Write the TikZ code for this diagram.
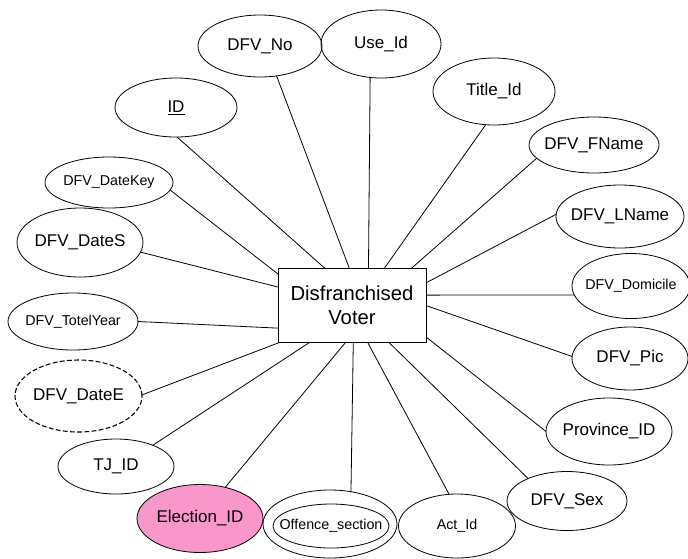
\documentclass[tikz,border=0pt]{standalone}
\usepackage{fontspec}
\setmainfont{Liberation Sans}
\usetikzlibrary{shapes.geometric}
\definecolor{elpink}{RGB}{249,150,202}
\begin{document}
\begin{tikzpicture}[x=0.75pt,y=-0.75pt,line width=0.6pt,
    ent/.style={draw,rectangle,outer sep=0pt,inner sep=0pt,minimum width=111pt,
      minimum height=55.5pt,align=center,font=\fontsize{15.2}{18}\selectfont},
    attr/.style={draw,ellipse,outer sep=0pt,inner sep=0pt,font=\fontsize{12.75}{15}\selectfont,
      execute at begin node={\hbox to 0pt\bgroup\hss},execute at end node={\hss\egroup}},
    sattr/.style={attr,font=\fontsize{10.7}{13}\selectfont},
    sz/.style 2 args={minimum width={#1*1.5pt},minimum height={#2*1.5pt}}]
  \useasboundingbox (0,0) rectangle (688,558);
  \node[ent] (dv) at (352,305.5) {Disfranchised\\Voter};
  \node[attr,sz={61}{29.5}] (id) at (176,107.5) {\underline{ID}};
  \node[attr,sz={62}{31}] (dno) at (260,46) {DFV\_No};
  \node[attr,sz={60}{34}] (use) at (381,44) {Use\_Id};
  \node[attr,sz={61}{33.5}] (title) at (494,91.5) {Title\_Id};
  \node[attr,sz={65}{28}] (fname) at (594,145) {DFV\_FName};
  \node[attr,sz={64}{31.5}] (lname) at (620,216.5) {DFV\_LName};
  \node[sattr,sz={59}{32.5}] (dom) at (631,286) {DFV\_Domicile};
  \node[attr,sz={58}{31.5}] (pic) at (630,358.5) {DFV\_Pic};
  \node[attr,sz={63}{33.5}] (prov) at (609,431.5) {Province\_ID};
  \node[attr,sz={60}{29.5}] (sex) at (567,501) {DFV\_Sex};
  \node[sattr,sz={58.5}{32}] (act) at (457,526) {Act\_Id};
  \node[attr,sz={67}{34}] (off) at (330,524) {};
  \node[sattr,sz={58}{22}] (offin) at (331,526) {Offence\_section};
  \node[attr,fill=elpink,sz={63}{34}] (elec) at (200,518.5) {Election\_ID};
  \node[attr,sz={58}{27.5}] (tj) at (116,466.5) {TJ\_ID};
  \node[attr,line width=0.8pt,dash pattern=on 3.6pt off 1.8pt,sz={63.5}{36}] (datee) at (78.5,396) {DFV\_DateE};
  \node[sattr,sz={65}{28.5}] (totel) at (73,321.5) {DFV\_TotelYear};
  \node[attr,sz={63}{34.5}] (dates) at (80,242.5) {DFV\_DateS};
  \node[sattr,sz={64}{25.5}] (dkey) at (109,182.5) {DFV\_DateKey};
  \draw (dv.126.5) -- (id.-88);
  \draw (dv.157.6) -- (dkey.-7.4);
  \draw (dv.94.7) -- (dno.-61.3);
  \draw (dv.66.3) -- (use.-108);
  \draw (dv.49.7) -- (title.-104.7);
  \draw (dv.32.2) -- (fname.-167.2);
  \draw (dv.17.6) -- (lname.178.7);
  \draw (dv.8.1) -- (dom.-171.3);
  \draw (dv.0.4) -- (pic.178.5);
  \draw (dv.-23.7) -- (prov.180);
  \draw (dv.-45.4) -- (sex.150.7);
  \draw (dv.-67.7) -- (act.104);
  \draw (dv.-88.4) -- (off.57.1);
  \draw (dv.-100.9) -- (elec.51.7);
  \draw (dv.-139) -- (tj.30.9);
  \draw (dv.-153.1) -- (datee.1.3);
  \draw (dv.-163.8) -- (totel.0);
  \draw (dv.166.7) -- (dates.-9.5);
\end{tikzpicture}
\end{document}
